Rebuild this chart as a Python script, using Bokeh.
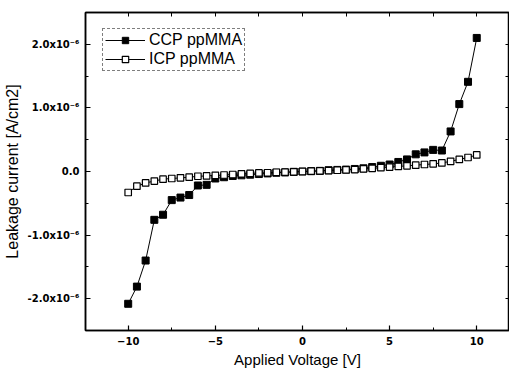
from bokeh.plotting import figure
from bokeh.models import LinearAxis, FixedTicker, Range1d
from bokeh.embed import file_html
from bokeh.resources import INLINE

# Applied voltage [V]
voltage = [-10 + 0.5 * i for i in range(41)]

# Leakage current in units of 1e-6 A/cm2
ccp = [-2.08, -1.81, -1.40, -0.76, -0.68, -0.45, -0.41, -0.37, -0.22, -0.21,
       -0.11, -0.09, -0.07, -0.06, -0.05, -0.04, -0.03, -0.02, -0.015, -0.005,
       0.0, 0.005, 0.01, 0.02, 0.025, 0.03, 0.04, 0.05, 0.07, 0.09,
       0.11, 0.15, 0.19, 0.27, 0.30, 0.34, 0.33, 0.63, 1.06, 1.41, 2.10]
icp = [-0.33, -0.23, -0.18, -0.15, -0.12, -0.11, -0.10, -0.09, -0.075, -0.07,
       -0.06, -0.055, -0.047, -0.037, -0.03, -0.022, -0.02, -0.012, -0.01, -0.005,
       0.0, 0.005, 0.01, 0.015, 0.02, 0.025, 0.03, 0.04, 0.05, 0.06,
       0.07, 0.08, 0.09, 0.10, 0.11, 0.12, 0.135, 0.16, 0.19, 0.22, 0.26]

x_ticks = [-10, -5, 0, 5, 10]
x_minor = [-12.5, -7.5, -2.5, 2.5, 7.5, 12.5]
y_ticks = [-2, -1, 0, 1, 2]
y_minor = [-1.5, -0.5, 0.5, 1.5]
y_tick_labels = ["-2.0x10\u207b\u2076", "-1.0x10\u207b\u2076", "0.0",
                 "1.0x10\u207b\u2076", "2.0x10\u207b\u2076"]

FONT = "Liberation Sans"
TICK_FONT = "DejaVu Sans"

p = figure(width=509, height=370, output_backend="svg", toolbar_location=None,
           x_range=Range1d(-12.45, 11.88), y_range=Range1d(-2.5, 2.5),
           min_border_left=79, min_border_top=12, min_border_bottom=37,
           min_border_right=0)
p.grid.visible = False
p.background_fill_color = "white"
p.border_fill_color = "white"
p.outline_line_color = "black"
p.outline_line_width = 1.5

p.line(voltage, ccp, line_color="black", line_width=1, legend_label="CCP ppMMA")
p.scatter(voltage, ccp, marker="square", size=7, fill_color="black",
          line_color="black", legend_label="CCP ppMMA")
p.line(voltage, icp, line_color="black", line_width=1, legend_label="ICP ppMMA")
p.scatter(voltage, icp, marker="square", size=6.5, fill_color="white",
          line_color="black", line_width=1.2, legend_label="ICP ppMMA")

def style(ax):
    ax.axis_line_color = "black"
    ax.axis_line_width = 1.5
    ax.major_tick_in = 5
    ax.major_tick_out = 0
    ax.minor_tick_in = 3
    ax.minor_tick_out = 0
    ax.major_tick_line_color = "black"
    ax.minor_tick_line_color = "black"
    ax.major_tick_line_width = 1.2
    ax.minor_tick_line_width = 1
    ax.major_label_text_font = TICK_FONT
    ax.major_label_text_font_size = "10px"
    ax.major_label_text_font_style = "bold"
    ax.major_label_text_color = "black"
    ax.axis_label_text_font = FONT
    ax.axis_label_text_font_size = "15px"
    ax.axis_label_text_font_style = "normal"
    ax.axis_label_text_color = "black"

xa = p.xaxis[0]
xa.ticker = FixedTicker(ticks=x_ticks, minor_ticks=x_minor)
xa.axis_label = "Applied Voltage [V]"
style(xa)
xa.major_label_standoff = 6
xa.axis_label_standoff = 3

ya = p.yaxis[0]
ya.ticker = FixedTicker(ticks=y_ticks, minor_ticks=y_minor)
ya.major_label_overrides = {t: l for t, l in zip(y_ticks, y_tick_labels)}
ya.axis_label = "Leakage current [A/cm2]"
style(ya)
ya.axis_label_text_font_size = "16px"
ya.major_label_standoff = 6
ya.axis_label_standoff = 4

# Mirror axes: tick marks only (no labels)
top = LinearAxis(ticker=FixedTicker(ticks=[], minor_ticks=x_ticks + x_minor))
style(top)
top.minor_tick_in = 4
top.major_label_standoff = 0
p.add_layout(top, "above")

right = LinearAxis(ticker=FixedTicker(ticks=[], minor_ticks=y_ticks + y_minor))
style(right)
right.minor_tick_in = 4
right.major_label_standoff = 0
p.add_layout(right, "right")

lg = p.legend[0]
lg.location = (17, 259)
lg.border_line_color = "black"
lg.border_line_width = 1
lg.border_line_dash = "2 1"
lg.background_fill_alpha = 0
lg.label_text_font = FONT
lg.label_text_font_size = "16px"
lg.label_text_color = "black"
lg.glyph_width = 40
lg.glyph_height = 16
lg.label_standoff = 4
lg.padding = 2
lg.spacing = 1
lg.margin = 0
lg.label_height = 18

open("out.html", "w").write(file_html(p, INLINE))
